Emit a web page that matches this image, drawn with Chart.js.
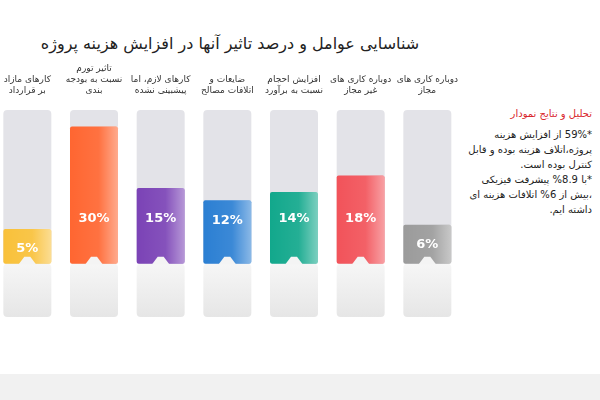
<!DOCTYPE html>
<html>
<head>
<meta charset="utf-8">
<script src="https://cdn.jsdelivr.net/npm/chart.js@4"></script>
<style>
body { margin:0; width:600px; height:400px; background:#fff; overflow:hidden; position:relative; font-family:"DejaVu Sans", sans-serif; }
#title { position:absolute; left:0; width:460px; top:34px; text-align:center; font-size:16px; color:#222; direction:rtl; }
#wrap { position:absolute; left:-6px; top:62px; width:468px; height:255px; }
#note { position:absolute; left:468px; top:106px; width:124px; direction:rtl; text-align:right; font-size:10px; line-height:15px; color:#222; }
#note .h { color:#d9262c; margin-bottom:6px; }
#band { position:absolute; left:0; top:374px; width:600px; height:26px; background:#f1f1f1; }
</style>
</head>
<body>
<div id="title">شناسایی عوامل و درصد تاثیر آنها در افزایش هزینه پروژه</div>
<div id="wrap"><canvas id="c"></canvas></div>
<div id="note">
<div class="h">تحلیل و نتایج نمودار</div>
<div>*59% از افزایش هزینه پروژه،اتلاف هزینه بوده و قابل کنترل بوده است.<br>*با 8.9% پیشرفت فیزیکی ،بیش از 6% اتلافات هزینه ای داشته ایم.</div>
</div>
<div id="band"></div>
<script>
var labels = [
    ['کارهای مازاد', 'بر قرارداد'],
    ['تاثیر تورم', 'نسبت به بودجه', 'بندی'],
    ['کارهای لازم، اما', 'پیشبینی نشده'],
    ['ضایعات و', 'اتلافات مصالح'],
    ['افزایش احجام', 'نسبت به برآورد'],
    ['دوباره کاری های', 'غیر مجاز'],
    ['دوباره کاری های', 'مجاز']
];
var values = [5, 30, 15, 12, 14, 18, 6];
var colors = ['#f9c13a', '#ff6631', '#7b43b6', '#2b7fd3', '#12a88c', '#f2535a', '#9b9b9b'];

var yBase = -3.5, yTop = 34, yBottom = -16.5;

var barOverlay = {
    id: 'barOverlay',
    afterDatasetsDraw: function(chart) {
        var ctx = chart.ctx;
        var meta = chart.getDatasetMeta(2);
        var y0 = chart.scales.y.getPixelForValue(yBase);
        meta.data.forEach(function(bar, i) {
            var w = bar.width, x = bar.x - w / 2;
            var g = ctx.createLinearGradient(x, 0, x + w, 0);
            g.addColorStop(0, 'rgba(255,255,255,0)');
            g.addColorStop(0.6, 'rgba(255,255,255,0.08)');
            g.addColorStop(1, 'rgba(255,255,255,0.45)');
            ctx.fillStyle = g;
            ctx.fillRect(x, bar.y, w, y0 - bar.y);
            // notch
            ctx.fillStyle = '#f4f4f4';
            ctx.beginPath();
            ctx.moveTo(bar.x - 9, y0 + 1);
            ctx.lineTo(bar.x - 3, y0 - 7);
            ctx.lineTo(bar.x + 3, y0 - 7);
            ctx.lineTo(bar.x + 9, y0 + 1);
            ctx.closePath();
            ctx.fill();
            // value
            ctx.fillStyle = '#fff';
            ctx.font = 'bold 13px "DejaVu Sans", sans-serif';
            ctx.textAlign = 'center';
            ctx.textBaseline = 'middle';
            var ly = Math.max(bar.y + 20, y0 - 45);
            ctx.fillText(values[i] + '%', bar.x, ly);
        });
    }
};

new Chart(document.getElementById('c'), {
    type: 'bar',
    data: {
        labels: labels,
        datasets: [{
            data: values.map(function() { return [yBase, yTop]; }),
            backgroundColor: '#e3e3e8',
            borderRadius: 4,
            borderSkipped: false,
            grouped: false,
            order: 3
        }, {
            data: values.map(function() { return [yBottom, yBase]; }),
            backgroundColor: function(context) {
                var ch = context.chart, a = ch.chartArea;
                if (!a) return '#f2f2f2';
                var g = ch.ctx.createLinearGradient(0, ch.scales.y.getPixelForValue(yBase), 0, a.bottom);
                g.addColorStop(0, '#f6f6f6');
                g.addColorStop(1, '#e6e6e6');
                return g;
            },
            borderRadius: 4,
            borderSkipped: false,
            grouped: false,
            order: 2
        }, {
            data: values.map(function(v) { return [yBase, v]; }),
            backgroundColor: colors,
            borderRadius: 2,
            borderSkipped: false,
            grouped: false,
            order: 1
        }]
    },
    options: {
        responsive: true,
        maintainAspectRatio: false,
        animation: false,
        layout: { padding: 0 },
        datasets: { bar: { categoryPercentage: 0.72, barPercentage: 1 } },
        scales: {
            x: {
                position: 'top',
                grid: { display: false },
                border: { display: false },
                ticks: { color: '#333', font: { size: 9, family: '"DejaVu Sans", sans-serif' }, maxRotation: 0, autoSkip: false, padding: 4 },
                afterFit: function(s) { s.height = 46; }
            },
            y: { display: false, min: yBottom, max: yTop + 0.5 }
        },
        plugins: { legend: { display: false }, tooltip: { enabled: false } }
    },
    plugins: [barOverlay]
});
</script>
</body>
</html>
